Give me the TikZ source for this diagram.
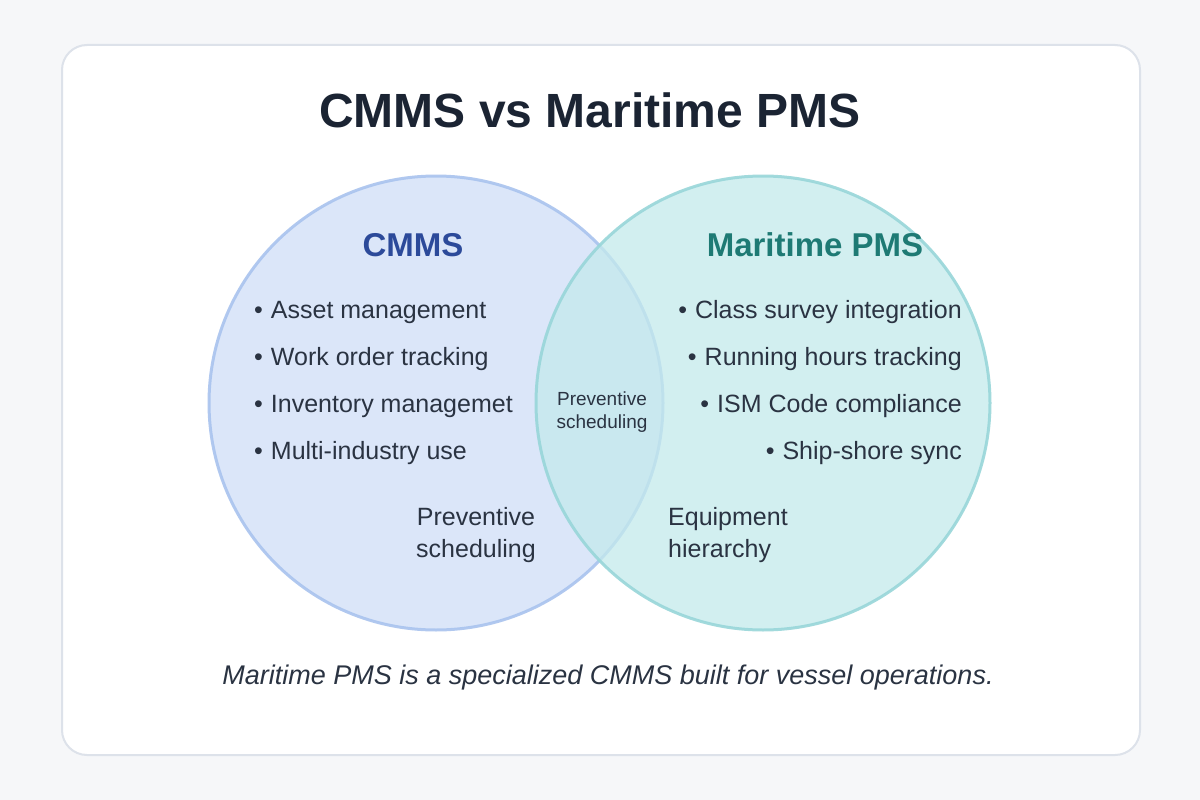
\documentclass[tikz,border=0pt]{standalone}
\usepackage{fontspec}
\setmainfont{Liberation Sans}
\definecolor{bg}{HTML}{F6F7F9}
\definecolor{card}{HTML}{FFFFFF}
\definecolor{cardline}{HTML}{DDE2EA}
\definecolor{navy}{HTML}{1B2433}
\definecolor{txt}{HTML}{2A3342}
\definecolor{lfill}{HTML}{D3E0F8}
\definecolor{lline}{HTML}{A9C3EE}
\definecolor{rfill}{HTML}{C4EAEC}
\definecolor{rline}{HTML}{98D6D9}
\definecolor{cblue}{HTML}{2C4A9A}
\definecolor{cteal}{HTML}{1E7A74}
\begin{document}
\begin{tikzpicture}[x=1pt,y=-1pt,
  item/.style={font=\fontsize{25}{29}\selectfont,text=txt,inner sep=0pt},
  head/.style={font=\fontsize{33}{38}\selectfont\bfseries,inner sep=0pt}]
\fill[bg] (0,0) rectangle (1200,800);
\draw[cardline,fill=card,line width=2,rounded corners=25] (62,45) rectangle (1140,755);
\node[font=\fontsize{48}{54}\selectfont\bfseries,text=navy] (title) at (590,110) {CMMS vs Maritime PMS};
\node[circle,minimum size=454,inner sep=0pt,fill=lfill,fill opacity=0.8,draw=lline,line width=3,draw opacity=0.9] (L) at (436,403) {};
\node[circle,minimum size=454,inner sep=0pt,fill=rfill,fill opacity=0.75,draw=rline,line width=3,draw opacity=0.9] (R) at (763,403) {};
\node[head,text=cblue] (lh) at (413,245) {CMMS};
\node[head,text=cteal] (rh) at (815,245) {Maritime PMS};
\foreach \t [count=\i] in {Asset management,Work order tracking,Inventory managemet,Multi-industry use}
  \node[item,anchor=west] (l\i) at (254,265+47*\i) {\textbullet\hspace{8pt}\t};
\foreach \t [count=\i] in {Class survey integration,Running hours tracking,ISM Code compliance,Ship-shore sync}
  \node[item,anchor=east] (r\i) at (962,265+47*\i) {\textbullet\hspace{8pt}\t};
\node[font=\fontsize{19}{23}\selectfont,text=txt,align=center] (mid) at (602,412) {Preventive\\scheduling};
\node[item,align=center] (lp) at (476,535) {Preventive\\[3pt]scheduling};
\node[item,align=left,anchor=west] (rp) at (668,535) {Equipment\\[3pt]hierarchy};
\node[font=\fontsize{27}{31}\selectfont\itshape,text=txt] (cap) at (608,678) {Maritime PMS is a specialized CMMS built for vessel operations.};
\end{tikzpicture}
\end{document}
